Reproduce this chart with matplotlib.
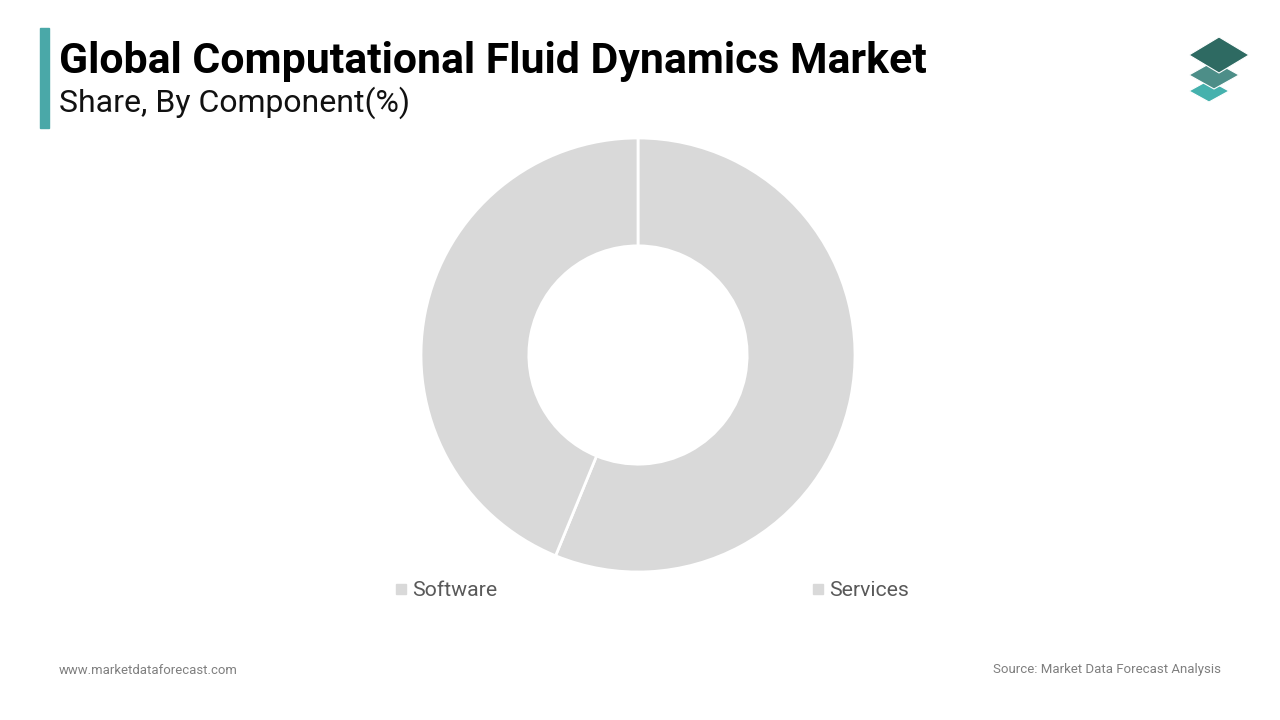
import matplotlib.pyplot as plt
from matplotlib.patches import Polygon, Rectangle
from matplotlib.lines import Line2D

# data
components = ["Software", "Services"]
shares = [56.2, 43.8]
slice_colors = ["#d9d9d9", "#d9d9d9"]

title = "Global Computational Fluid Dynamics Market"
subtitle = "Share, By Component(%)"

W, H = 1280, 720
fig = plt.figure(figsize=(12.8, 7.2), dpi=100)
fig.patch.set_facecolor("white")


def px(x, y):
    # pixel coords (top-left origin) -> figure fraction
    return x / W, 1 - y / H


# accent bar and titles
fig.patches.append(Rectangle(px(40, 128), 9 / W, 100 / H, transform=fig.transFigure,
                             color="#4aa8a8", zorder=3))
fig.text(*px(59, 62), title, fontsize=30.8, fontweight="bold", family="Roboto",
         color="#000000", va="center", ha="left")
fig.text(*px(59, 103), subtitle, fontsize=23, family="Roboto",
         color="#111111", va="center", ha="left")

# logo: three stacked rhombi
logo = [((1209, 91), 20, 11, "#45b1ad"),
        ((1214, 75), 25, 14, "#4d8e88"),
        ((1219, 55), 30, 18, "#2e6a62")]
for (cx, cy), hw, hh, c in logo:
    pts = [px(cx - hw, cy), px(cx, cy - hh), px(cx + hw, cy), px(cx, cy + hh)]
    fig.patches.append(Polygon(pts, closed=True, transform=fig.transFigure,
                               facecolor=c, edgecolor="white", linewidth=0.8))

# donut
cx, cy, r = 638, 355, 217
ax = fig.add_axes([(cx - r) / W, (H - cy - r) / H, 2 * r / W, 2 * r / H])
ax.pie(shares, colors=slice_colors, startangle=90, counterclock=False,
       radius=1.0, wedgeprops=dict(width=0.497, edgecolor="white", linewidth=2))
ax.set_xlim(-1, 1)
ax.set_ylim(-1, 1)
ax.set_aspect("equal")
ax.axis("off")

# legend
handles = [Line2D([], [], marker="s", linestyle="", markersize=7,
                  markerfacecolor=c, markeredgecolor=c) for c in slice_colors]
fig.legend(handles, components, loc="center", bbox_to_anchor=px(652, 591),
           ncol=2, frameon=False, handlelength=0.6, handletextpad=0.22,
           columnspacing=14.8, prop=dict(family="Roboto", size=15.3),
           labelcolor="#595959")

# footer
fig.text(*px(59, 670), "www.marketdataforecast.com", fontsize=9.45, family="Roboto",
         color="#7f7f7f", va="center", ha="left")
fig.text(*px(1221, 670), "Source: Market Data Forecast Analysis", fontsize=9.5,
         family="Roboto", color="#7f7f7f", va="center", ha="right")

fig.savefig("out.png", dpi=100, facecolor="white")
